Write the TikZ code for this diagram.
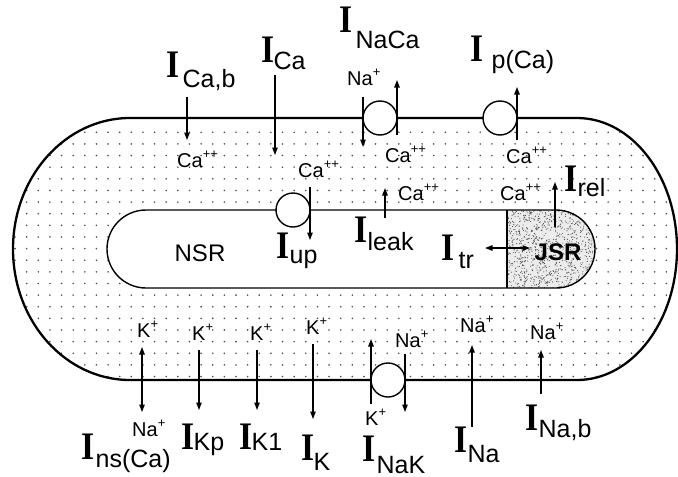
\documentclass[tikz,border=0pt]{standalone}
\usepackage{fontspec}
\usepackage{graphicx}
\setmainfont{Liberation Sans}
\newfontfamily\serifb{Liberation Serif}
\usetikzlibrary{arrows.meta}
\newcommand{\cur}[3]{\raisebox{0pt}[26.5pt][0pt]{\scalebox{0.86}[1]{\fontsize{39}{39}\selectfont\serifb\bfseries I}}\kern#1pt\raisebox{-#2pt}{\fontsize{25}{25}\selectfont #3}}
\newcommand{\ion}[2]{{\fontsize{20}{20}\selectfont #1\raisebox{9pt}{\fontsize{13}{13}\selectfont #2}}}
\begin{document}
\begin{tikzpicture}[x=1pt,y=-1pt,
  arr/.style={line width=1.2pt,-{Triangle[length=7.5pt,width=5.5pt]}},
  darr/.style={line width=1.2pt,{Triangle[length=7.5pt,width=5.5pt]}-{Triangle[length=7.5pt,width=5.5pt]}},
  pump/.style={circle,draw,line width=1.4pt,fill=white,minimum size=34pt,inner sep=0pt},
  cur/.style={anchor=base west,inner sep=0pt},
  ionl/.style={anchor=base west,inner sep=0pt},
  sr/.style={inner sep=0pt,font=\fontsize{24}{24}\selectfont}
]
\useasboundingbox (0,0) rectangle (678,477);
% dotted cytoplasm
\begin{scope}
\clip (130,118) -- (577,118) arc[start angle=-90,end angle=90,x radius=100,y radius=131] -- (130,380) arc[start angle=90,end angle=270,x radius=117,y radius=131] -- cycle;
\foreach \i in {0,...,58} \foreach \j in {0,...,21} \fill[black!70] (3.4+11.63*\i,132.3+11.63*\j) circle (0.9);
\end{scope}
% cell membrane
\draw[line width=2.3pt] (130,118) -- (577,118) arc[start angle=-90,end angle=90,x radius=100,y radius=131] -- (130,380) arc[start angle=90,end angle=270,x radius=117,y radius=131] -- cycle;
% SR
\fill[white] (146,210) -- (556,210) arc[start angle=-90,end angle=90,radius=39] -- (146,288) arc[start angle=90,end angle=270,radius=39] -- cycle;
\begin{scope}
\clip (507,210) -- (556,210) arc[start angle=-90,end angle=90,radius=39] -- (507,288) -- cycle;
\fill[gray!15] (500,205) rectangle (600,295);
\pgfmathsetseed{7}
\foreach \k in {1,...,1000} \fill[black!70] ({507+90*rnd},{210+78*rnd}) circle (0.55);
\end{scope}
\draw[line width=1.4pt] (146,210) -- (556,210) arc[start angle=-90,end angle=90,radius=39] -- (146,288) arc[start angle=90,end angle=270,radius=39] -- cycle;
\draw[line width=1.4pt] (507,210) -- (507,288);
\node[sr] (nsr) at (200,253) {NSR};
\node[sr,font=\fontsize{24}{24}\selectfont\bfseries] (jsr) at (558,252) {JSR};
% pumps
\node[pump] (pup) at (293,210) {};
\node[pump] (pnaca) at (380,118) {};
\node[pump] (ppca) at (500,118) {};
\node[pump] (pnak) at (388,380) {};
% arrow end points
\coordinate (cab1) at (187,97);  \coordinate (cab2) at (187,140);
\coordinate (ca1) at (275,75);   \coordinate (ca2) at (275,155);
\coordinate (ncl1) at (363,97);  \coordinate (ncl2) at (363,147);
\coordinate (ncr1) at (397,135); \coordinate (ncr2) at (397,80);
\coordinate (pc1) at (517,140);  \coordinate (pc2) at (517,87);
\coordinate (up1) at (310,187);  \coordinate (up2) at (310,240);
\coordinate (lk1) at (385,218);  \coordinate (lk2) at (385,188);
\coordinate (tr1) at (485,248);  \coordinate (tr2) at (530,248);
\coordinate (rl1) at (555,227);  \coordinate (rl2) at (555,182);
\coordinate (ns1) at (142,347);  \coordinate (ns2) at (142,412);
\coordinate (kp1) at (199,350);  \coordinate (kp2) at (199,410);
\coordinate (ko1) at (257,350);  \coordinate (ko2) at (257,410);
\coordinate (kk1) at (313,344);  \coordinate (kk2) at (313,419);
\coordinate (nkl1) at (371,404); \coordinate (nkl2) at (371,339);
\coordinate (nkr1) at (405,354); \coordinate (nkr2) at (405,412);
\coordinate (na1) at (472,427);  \coordinate (na2) at (472,345);
\coordinate (nb1) at (541,394);  \coordinate (nb2) at (541,350);
\draw[arr] (cab1) -- (cab2);
\draw[arr] (ca1) -- (ca2);
\draw[arr] (ncl1) -- (ncl2);
\draw[arr] (ncr1) -- (ncr2);
\draw[arr] (pc1) -- (pc2);
\draw[arr] (up1) -- (up2);
\draw[arr] (lk1) -- (lk2);
\draw[darr] (tr1) -- (tr2);
\draw[arr] (rl1) -- (rl2);
\draw[darr] (ns1) -- (ns2);
\draw[arr] (kp1) -- (kp2);
\draw[arr] (ko1) -- (ko2);
\draw[arr] (kk1) -- (kk2);
\draw[arr] (nkl1) -- (nkl2);
\draw[arr] (nkr1) -- (nkr2);
\draw[arr] (na1) -- (na2);
\draw[arr] (nb1) -- (nb2);
% current labels
\node[cur] (lcab) at (166.4,77) {\cur{3}{10}{Ca,b}};
\node[cur] (lca) at (261.4,62) {\cur{-1}{7}{Ca}};
\node[cur] (lnaca) at (339.4,32) {\cur{3}{16}{NaCa}};
\node[cur] (lpca) at (470.4,61) {\cur{8}{7}{p(Ca)}};
\node[cur] (lrel) at (564.4,191) {\cur{0}{5}{rel}};
\node[cur] (lup) at (276.4,258) {\cur{0}{5}{up}};
\node[cur] (lleak) at (354.4,242) {\cur{0}{8}{leak}};
\node[cur] (ltr) at (441.4,260) {\cur{4}{8}{tr}};
\node[cur] (lns) at (81.4,459) {\cur{1}{8}{ns(Ca)}};
\node[cur] (lkp) at (181.4,449) {\cur{-1}{1}{Kp}};
\node[cur] (lko) at (239.4,449) {\cur{-1}{1}{K1}};
\node[cur] (lkk) at (301.4,460) {\cur{-1}{10}{K}};
\node[cur] (lnak) at (362.4,461) {\cur{1}{12}{NaK}};
\node[cur] (lna) at (454.4,452) {\cur{0}{10}{Na}};
\node[cur] (lnab) at (525.4,430) {\cur{0}{7}{Na,b}};
% ion labels
\node[ionl] (ica1) at (177,167) {\ion{Ca}{++}};
\node[ionl] (ica2) at (298,177) {\ion{Ca}{++}};
\node[ionl] (ica3) at (385,162) {\ion{Ca}{++}};
\node[ionl] (ica4) at (506,163) {\ion{Ca}{++}};
\node[ionl] (ica5) at (398,200) {\ion{Ca}{++}};
\node[ionl] (ica6) at (500,200) {\ion{Ca}{++}};
\node[ionl] (ina1) at (347,85) {\ion{Na}{+}};
\node[ionl] (ik1) at (137,337) {\ion{K}{+}};
\node[ionl] (ik2) at (192,340) {\ion{K}{+}};
\node[ionl] (ik3) at (250,340) {\ion{K}{+}};
\node[ionl] (ik4) at (306,334) {\ion{K}{+}};
\node[ionl] (ina2) at (395,347) {\ion{Na}{+}};
\node[ionl] (ina3) at (460,332) {\ion{Na}{+}};
\node[ionl] (ina4) at (530,339) {\ion{Na}{+}};
\node[ionl] (ik5) at (365,425) {\ion{K}{+}};
\node[ionl] (ina5) at (132,436) {\ion{Na}{+}};
\end{tikzpicture}
\end{document}
